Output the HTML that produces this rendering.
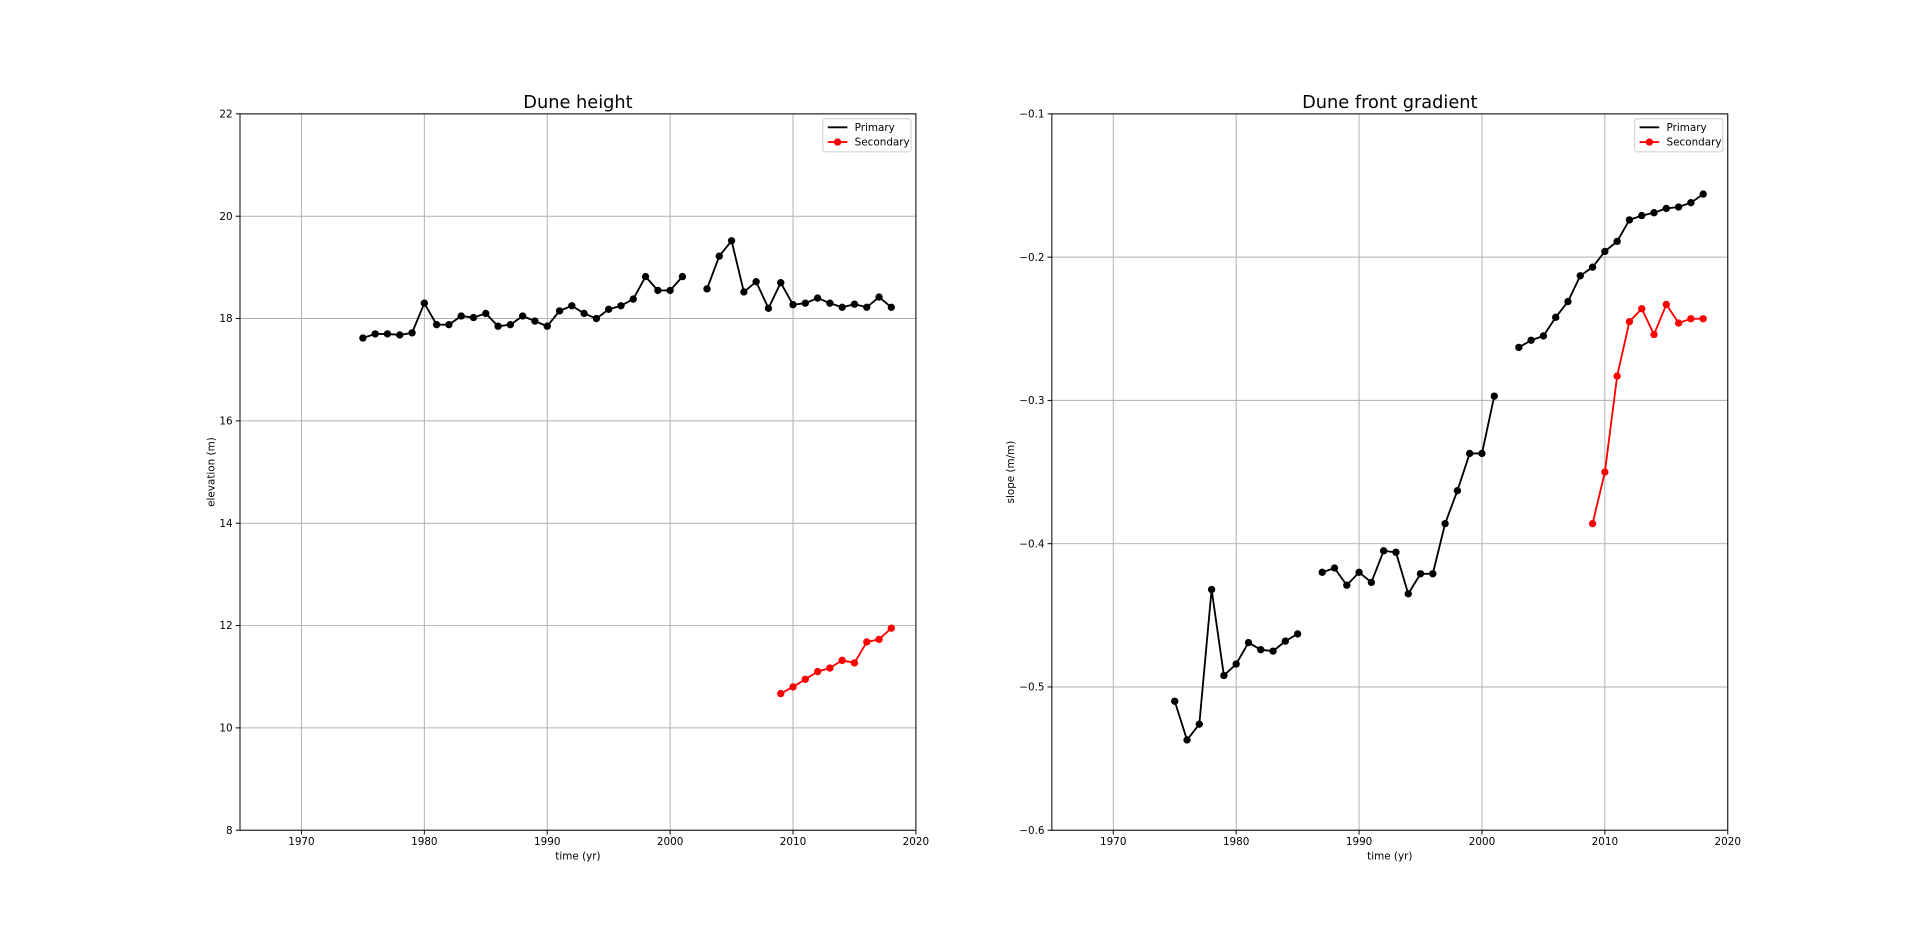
<!DOCTYPE html>
<html><head><meta charset="utf-8"><style>
html,body{margin:0;padding:0;background:#fff;}
svg{display:block;font-family:"DejaVu Sans","Liberation Sans",sans-serif;}
</style></head><body>
<svg id="fig" width="1920" height="949" viewBox="0 0 1568 775" preserveAspectRatio="none" xmlns="http://www.w3.org/2000/svg"></svg>
<script>
const years = [];
for (let y = 1975; y <= 2018; y++) years.push(y);
const heightPrimary = [17.62,17.7,17.7,17.68,17.72,18.3,17.88,17.88,18.05,18.02,18.1,17.85,17.88,18.05,17.95,17.85,18.15,18.25,18.1,18.0,18.18,18.25,18.38,18.82,18.55,18.55,18.82,null,18.58,19.22,19.52,18.52,18.72,18.2,18.7,18.27,18.3,18.4,18.3,18.22,18.28,18.22,18.42,18.22];
const secYears = [2009,2010,2011,2012,2013,2014,2015,2016,2017,2018];
const heightSecondary = [10.67,10.8,10.95,11.1,11.17,11.32,11.27,11.68,11.73,11.95];
const slopePrimary = [-0.51,-0.537,-0.526,-0.432,-0.492,-0.484,-0.469,-0.474,-0.475,-0.468,-0.463,null,-0.42,-0.417,-0.429,-0.42,-0.427,-0.405,-0.406,-0.435,-0.421,-0.421,-0.386,-0.363,-0.337,-0.337,-0.297,null,-0.263,-0.258,-0.255,-0.242,-0.231,-0.213,-0.207,-0.196,-0.189,-0.174,-0.171,-0.169,-0.166,-0.165,-0.162,-0.156];
const slopeSecondary = [-0.386,-0.35,-0.283,-0.245,-0.236,-0.254,-0.233,-0.246,-0.243,-0.243];
const xTicks = [1970,1980,1990,2000,2010,2020];
const heightTicks = [8,10,12,14,16,18,20,22];
const slopeTicks = [-0.6,-0.5,-0.4,-0.3,-0.2,-0.1];

const NS = "http://www.w3.org/2000/svg";
const svg = document.getElementById('fig');
function mk(tag, attrs, parent){const e=document.createElementNS(NS,tag);for(const k in attrs)e.setAttribute(k,attrs[k]);(parent||svg).appendChild(e);return e;}

function panel(cfg){
  const g = mk('g',{});
  
  
  const L=cfg.left,R=cfg.left+552,T=93,B=678;
  const xs=v=>L+(v-1965)/(2020-1965)*(R-L);
  const ys=v=>B-(v-cfg.ymin)/(cfg.ymax-cfg.ymin)*(B-T);
  xTicks.forEach(t=>{
    mk('line',{x1:xs(t),x2:xs(t),y1:T,y2:B,stroke:'#b0b0b0','stroke-width':0.8},g);
    mk('line',{x1:xs(t),x2:xs(t),y1:B,y2:B+3.5,stroke:'#000','stroke-width':0.8},g);
    const tx=mk('text',{x:xs(t),y:B+12,'font-size':8.5,'text-anchor':'middle'},g);tx.textContent=t;
    
    
  });
  cfg.ticks.forEach(t=>{
    mk('line',{x1:L,x2:R,y1:ys(t),y2:ys(t),stroke:'#b0b0b0','stroke-width':0.8},g);
    mk('line',{x1:L-3.5,x2:L,y1:ys(t),y2:ys(t),stroke:'#000','stroke-width':0.8},g);
    const tx=mk('text',{x:L-6,y:ys(t)+3,'font-size':8.5,'text-anchor':'end'},g);
    tx.textContent=cfg.fmt(t);
    
    
  });
  function series(xv,yv,color,name){
    let segs=[],cur=[];
    xv.forEach((x,i)=>{if(yv[i]===null){if(cur.length)segs.push(cur);cur=[];}else cur.push([xs(x),ys(yv[i])]);});
    if(cur.length)segs.push(cur);
    segs.forEach(s=>{const p=mk('polyline',{points:s.map(q=>q.join(',')).join(' '),fill:'none',stroke:color,'stroke-width':1.5},g);
      
      
      s.forEach(q=>{const c=mk('circle',{cx:q[0],cy:q[1],r:3,fill:color},g);
        
        });});
  }
  series(years,cfg.prim,'#000','primary');
  series(secYears,cfg.sec,'#ff0000','secondary');
  mk('rect',{x:L,y:T,width:R-L,height:B-T,fill:'none',stroke:'#000','stroke-width':0.8},g);
  const tt=mk('text',{x:(L+R)/2,y:T-5,'font-size':14.5,'text-anchor':'middle'},g);tt.textContent=cfg.title;
  
  
  const xl=mk('text',{x:(L+R)/2,y:B+24,'font-size':8.5,'text-anchor':'middle'},g);xl.textContent='time (yr)';
  
  
  const yl=mk('text',{x:0,y:0,'font-size':8.5,'text-anchor':'middle',transform:`translate(${L-cfg.ylOff},${(T+B)/2}) rotate(-90)`},g);yl.textContent=cfg.ylabel;
  
  
  const lg=mk('g',{},g);
  
  
  mk('rect',{x:R-76,y:97,width:72,height:27,fill:'#fff',stroke:'#ccc','stroke-width':0.8,rx:2},lg);
  mk('line',{x1:R-72,x2:R-56,y1:104,y2:104,stroke:'#000','stroke-width':1.5},lg);
  let t1=mk('text',{x:R-50,y:107,'font-size':8.5},lg);t1.textContent='Primary';
  mk('line',{x1:R-72,x2:R-56,y1:116,y2:116,stroke:'#f00','stroke-width':1.5},lg);
  mk('circle',{cx:R-64,cy:116,r:3,fill:'#f00'},lg);
  let t2=mk('text',{x:R-50,y:119,'font-size':8.5},lg);t2.textContent='Secondary';
}
panel({name:'dune-height-chart',left:196,ymin:8,ymax:22,ticks:heightTicks,fmt:t=>String(t),prim:heightPrimary,sec:heightSecondary,title:'Dune height',ylabel:'elevation (m)',ylOff:21});
panel({name:'dune-gradient-chart',left:859,ymin:-0.6,ymax:-0.1,ticks:slopeTicks,fmt:t=>'\u2212'+Math.abs(t).toFixed(1),prim:slopePrimary,sec:slopeSecondary,title:'Dune front gradient',ylabel:'slope (m/m)',ylOff:31});
</script>
</body></html>
